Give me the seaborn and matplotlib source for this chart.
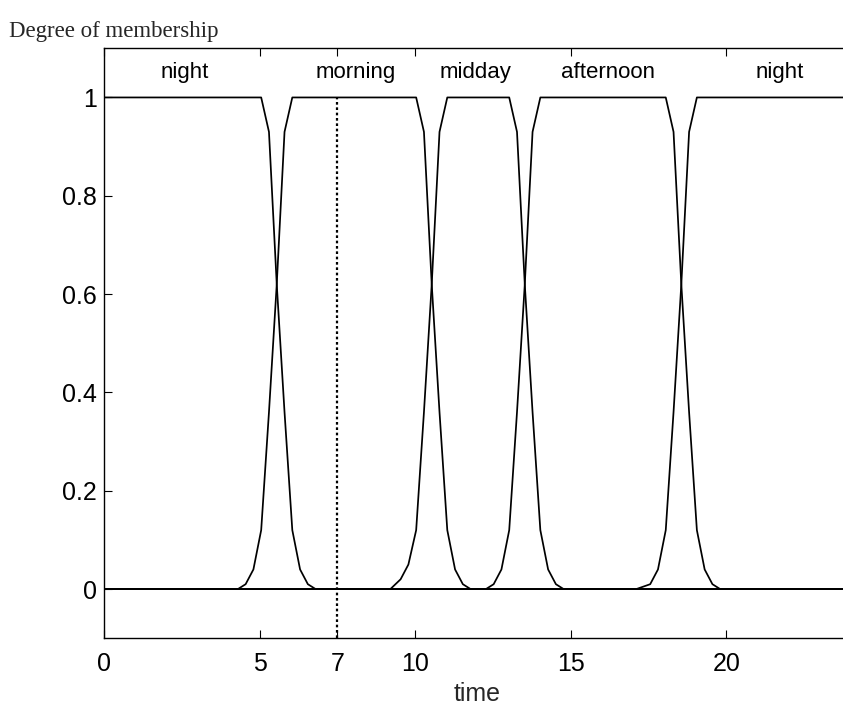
import numpy as np
import pandas as pd
import matplotlib
matplotlib.use("Agg")
import matplotlib.pyplot as plt
import seaborn as sns

# ---- data ----
night1_x = [0.0, 5.05, 5.30, 5.55, 5.80, 6.05, 6.30, 6.55, 6.80, 24.0]
night1_y = [1.0, 1.00, 0.93, 0.62, 0.36, 0.12, 0.04, 0.01, 0.00, 0.0]

morning_x = [0.0, 4.30, 4.55, 4.80, 5.05, 5.30, 5.55, 5.80, 6.05,
             10.03, 10.28, 10.53, 10.78, 11.03, 11.28, 11.53, 11.78, 24.0]
morning_y = [0.0, 0.00, 0.01, 0.04, 0.12, 0.36, 0.62, 0.93, 1.00,
             1.00, 0.93, 0.62, 0.36, 0.12, 0.04, 0.01, 0.00, 0.0]

midday_x = [0.0, 9.20, 9.53, 9.78, 10.03, 10.28, 10.53, 10.78, 11.03,
            13.02, 13.27, 13.52, 13.77, 14.02, 14.27, 14.52, 14.77, 24.0]
midday_y = [0.0, 0.00, 0.02, 0.05, 0.12, 0.36, 0.62, 0.93, 1.00,
            1.00, 0.93, 0.62, 0.36, 0.12, 0.04, 0.01, 0.00, 0.0]

afternoon_x = [0.0, 12.27, 12.52, 12.77, 13.02, 13.27, 13.52, 13.77, 14.02,
               18.05, 18.30, 18.55, 18.80, 19.05, 19.30, 19.55, 19.80, 24.0]
afternoon_y = [0.0, 0.00, 0.01, 0.04, 0.12, 0.36, 0.62, 0.93, 1.00,
               1.00, 0.93, 0.62, 0.36, 0.12, 0.04, 0.01, 0.00, 0.0]

night2_x = [0.0, 17.10, 17.55, 17.80, 18.05, 18.30, 18.55, 18.80, 19.05, 24.0]
night2_y = [0.0, 0.00, 0.01, 0.04, 0.12, 0.36, 0.62, 0.93, 1.00, 1.0]

labels = ["night", "morning", "midday", "afternoon", "night"]
label_x = [2.6, 8.1, 11.95, 16.2, 21.7]
label_y = 1.05

marker_pos = 7.5          # dotted line position as drawn in the picture
x_ticks = [0, 5, 7.5, 10, 15, 20]
x_tick_labels = ["0", "5", "7", "10", "15", "20"]
y_ticks = [0, 0.2, 0.4, 0.6, 0.8, 1]
y_tick_labels = ["0", "0.2", "0.4", "0.6", "0.8", "1"]

# ---- plot ----
sns.set_style("ticks")
plt.rcParams["font.family"] = ["Liberation Sans", "DejaVu Sans"]

fig = plt.figure(figsize=(8.43, 7.07), dpi=100)
ax = fig.add_axes([0.1234, 0.0972, 0.886, 0.8345])

curves = [(night1_x, night1_y), (morning_x, morning_y), (midday_x, midday_y),
          (afternoon_x, afternoon_y), (night2_x, night2_y)]
for cx, cy in curves:
    df = pd.DataFrame({"time": cx, "mu": cy})
    sns.lineplot(data=df, x="time", y="mu", ax=ax, color="black",
                 linewidth=1.25, estimator=None, sort=False)

ax.plot([marker_pos, marker_pos], [-0.1, 1.0], color="black",
        linestyle=(0, (1.2, 1.2)), linewidth=1.6)

for t, lx in zip(labels, label_x):
    ax.text(lx, label_y, t, ha="center", va="center", fontsize=16,
            color="black")

ax.set_xlim(0, 24)
ax.set_ylim(-0.1, 1.1)
ax.set_xticks(x_ticks)
ax.set_xticklabels(x_tick_labels)
ax.set_yticks(y_ticks)
ax.set_yticklabels(y_tick_labels)
ax.tick_params(direction="in", top=True, right=True, length=6, width=0.8,
               labelsize=18, colors="black")
ax.tick_params(axis="x", pad=10)
ax.tick_params(axis="y", pad=5)
for s in ax.spines.values():
    s.set_color("black")
    s.set_linewidth(1.0)

ax.set_xlabel("time", fontsize=18, labelpad=4)
ax.set_ylabel("")
fig.text(0.011, 0.956, "Degree of membership", fontsize=16.5,
         family=["Liberation Serif", "DejaVu Serif"], ha="left", va="center")

fig.savefig("out.png", dpi=100)
